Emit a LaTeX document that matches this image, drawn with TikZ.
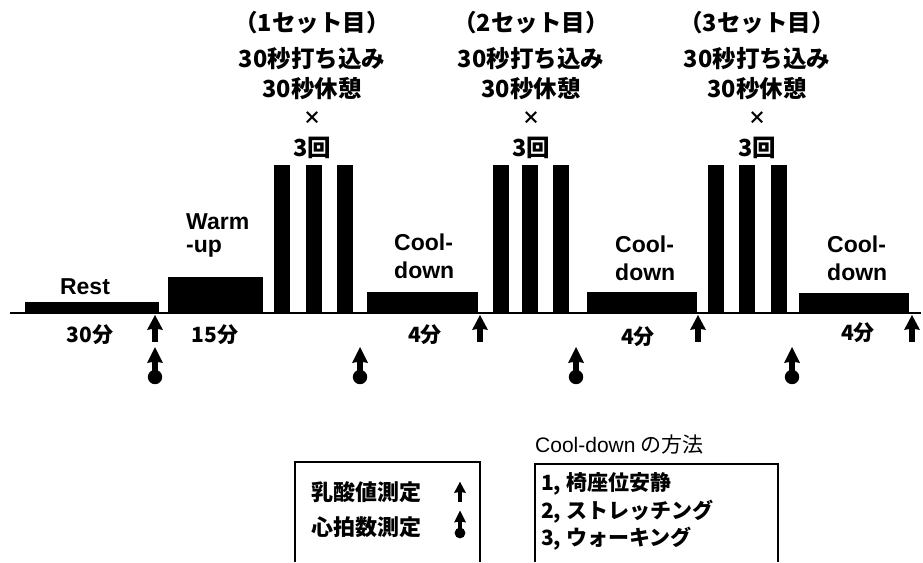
\documentclass[tikz,border=0pt]{standalone}
\usepackage{fontspec}
\setmainfont{Noto Sans CJK JP}
\newfontfamily\arial{Liberation Sans}
\begin{document}
\begin{tikzpicture}[x=1pt,y=-1pt,
  bar/.style={fill=black},
  lbl/.style={inner sep=0pt,font=\fontsize{21}{21}\selectfont\bfseries},
  toplbl/.style={inner sep=0pt,font=\fontsize{23.5}{23.5}\selectfont\bfseries},
  lat/.style={inner sep=0pt,font=\fontsize{23}{23}\selectfont\arial\bfseries},
  small/.style={inner sep=0pt,font=\fontsize{18}{18}\selectfont\bfseries},
  boxline/.style={draw=black,line width=1.4pt},
  lacarrow/.pic={\fill (-2.8,0) rectangle (2.8,-15);
                 \fill (0,-27) -- (-8,-12) -- (0,-13.5) -- (8,-12) -- cycle;},
  hrarrow/.pic={\fill (0,0) circle (7.2);
                \fill (-2.8,0) rectangle (2.8,-16);
                \fill (0,-30) -- (-8,-14) -- (0,-15.5) -- (8,-14) -- cycle;}
]
\useasboundingbox (0,0) rectangle (923,562);
% axis
\coordinate (axL) at (10,313);
\coordinate (axR) at (921,313);
\draw[line width=1.3pt] (axL) -- (axR);
% bars
\fill[bar] (25,313) rectangle (159,302);
\fill[bar] (168,313) rectangle (263,277);
\foreach \a in {274,306,337, 493,522,553, 708,739,771}
  \fill[bar] (\a,313) rectangle ({\a+16},165);
\fill[bar] (367,313) rectangle (478,292);
\fill[bar] (587,313) rectangle (697,292);
\fill[bar] (799,313) rectangle (909,293);
% top labels
\foreach \c/\n in {312/1,531/2,757/3}{
  \node[toplbl] (s\n a) at (\c,23) {（\n セット目）};
  \node[toplbl] (s\n b) at (\c,59) {30秒打ち込み};
  \node[toplbl] (s\n c) at (\c,89) {30秒休憩};
  \node[small] (s\n d) at (\c,118) {×};
  \node[toplbl] (s\n e) at (\c,148) {3回};
}
% phase labels
\node[lat] (rest) at (85,287) {Rest};
\node[lat,anchor=west] (warm) at (186,222) {Warm};
\node[lat,anchor=west] (wup) at (186,249) {-up};
\node[lat,anchor=west] (c1a) at (394,242) {Cool-};
\node[lat,anchor=west] (c1b) at (394,270) {down};
\node[lat,anchor=west] (c2a) at (615,244) {Cool-};
\node[lat,anchor=west] (c2b) at (615,272) {down};
\node[lat,anchor=west] (c3a) at (827,244) {Cool-};
\node[lat,anchor=west] (c3b) at (827,272) {down};
% durations
\node[lbl] (d1) at (90,335) {30分};
\node[lbl] (d2) at (215,335) {15分};
\node[lbl] (d3) at (425,335) {4分};
\node[lbl] (d4) at (638,337) {4分};
\node[lbl] (d5) at (858,333) {4分};
% lactate arrows
\foreach \x in {155,480,698,912} \pic at (\x,342) {lacarrow};
% heart-rate arrows
\foreach \x in {155,360,576,792} \pic at (\x,377) {hrarrow};
% legend box 1
\draw[boxline] (295,562) -- (295,462) -- (480,462) -- (480,562);
\node[lbl,anchor=west,font=\fontsize{22}{22}\selectfont\bfseries] (lg1) at (311,492) {乳酸値測定};
\node[lbl,anchor=west,font=\fontsize{22}{22}\selectfont\bfseries] (lg2) at (311,527) {心拍数測定};
\pic[scale=0.75] at (460,502) {lacarrow};
\pic[scale=0.75] at (460,533) {hrarrow};
% legend box 2
\node[inner sep=0pt,anchor=west,font=\fontsize{21}{21}\selectfont] (cdt) at (535,445) {{\arial Cool-down} の方法};
\draw[boxline] (535,562) -- (535,464) -- (778,464) -- (778,562);
\node[lbl,anchor=west] (m1) at (541,484) {1, 椅座位安静};
\node[lbl,anchor=west] (m2) at (541,512) {2, ストレッチング};
\node[lbl,anchor=west] (m3) at (541,539) {3, ウォーキング};
\end{tikzpicture}
\end{document}
